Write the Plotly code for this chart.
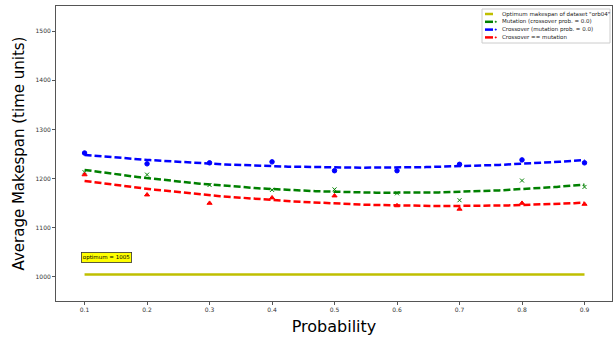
import numpy as np
import plotly.graph_objects as go

probability = [0.1, 0.2, 0.3, 0.4, 0.5, 0.6, 0.7, 0.8, 0.9]
mutation_only = [1213, 1208, 1187, 1177, 1178, 1170, 1156, 1196, 1183]
crossover_only = [1252, 1230, 1232, 1234, 1216, 1216, 1229, 1238, 1232]
crossover_eq_mutation = [1208, 1167, 1150, 1161, 1165, 1145, 1138, 1150, 1148]
optimum = 1005
dataset = "orb04"

FONT = "DejaVu Sans"
W, H = 614, 340
L, R, T, B = 56, 2, 6, 39
PW, PH = W - L - R, H - T - B


def px(x):
    return (x - L) / PW


def py(y):
    return (H - B - y) / PH


fig = go.Figure()

# optimum line
fig.add_trace(go.Scatter(
    x=[probability[0], probability[-1]], y=[optimum, optimum], mode="lines",
    line=dict(color="#bfbf00", width=2.5), showlegend=False))

series = [
    ("Mutation (crossover prob. = 0.0)", mutation_only, "#008000", "x-thin", 4),
    ("Crossover (mutation prob. = 0.0)", crossover_only, "#0000ff", "circle", 4.5),
    ("Crossover == mutation", crossover_eq_mutation, "#ff0000", "triangle-up", 4.5),
]

xs = np.linspace(probability[0], probability[-1], 200)
for name, vals, color, sym, sz in series:
    coef = np.polyfit(probability, vals, 2)
    fig.add_trace(go.Scatter(
        x=xs, y=np.polyval(coef, xs), mode="lines",
        line=dict(color=color, width=2.5, dash="7px,3px"),
        showlegend=False))
    fig.add_trace(go.Scatter(
        x=probability, y=vals, mode="markers",
        marker=dict(color=color, symbol=sym, size=sz,
                    line=dict(color=color, width=1)),
        showlegend=False))

# manual legend (matplotlib-like, compact)
legend_items = [
    (f'Optimum makespan of dataset "{dataset}"', "#bfbf00", False),
    ("Mutation (crossover prob. = 0.0)", "#008000", True),
    ("Crossover (mutation prob. = 0.0)", "#0000ff", True),
    ("Crossover == mutation", "#ff0000", True),
]
fig.add_shape(type="rect", xref="paper", yref="paper",
              x0=px(482), x1=px(610), y0=py(43), y1=py(9),
              line=dict(color="#cccccc", width=1), fillcolor="white", layer="above")
for i, (txt, color, dot) in enumerate(legend_items):
    yy = 14 + i * 7.8
    fig.add_shape(type="line", xref="paper", yref="paper",
                  x0=px(485), x1=px(493), y0=py(yy), y1=py(yy),
                  line=dict(color=color, width=2.5), layer="above")
    if dot:
        fig.add_shape(type="circle", xref="paper", yref="paper",
                      x0=px(495), x1=px(496.5), y0=py(yy - 0.75), y1=py(yy + 0.75),
                      line=dict(color=color, width=0.5), fillcolor=color, layer="above")
    fig.add_annotation(x=px(500), y=py(yy), xref="paper", yref="paper",
                       xanchor="left", yanchor="middle", text=txt, showarrow=False,
                       font=dict(family=FONT, size=5.5, color="#222222"))

fig.add_annotation(
    x=0.0935, y=1038.5, xref="x", yref="y", xanchor="left", yanchor="middle",
    text=f"optimum = {optimum}", showarrow=False,
    font=dict(family=FONT, size=5.5, color="black"),
    bgcolor="#ffff00", bordercolor="#333333", borderwidth=0.8, borderpad=1)

axis_common = dict(
    showgrid=False, zeroline=False, showline=True, linecolor="#555555",
    linewidth=1, mirror=True, ticks="outside", ticklen=3, tickcolor="#555555",
    tickfont=dict(family=FONT, size=6, color="#333333"))

fig.update_xaxes(range=[0.0543, 0.944], tickvals=probability,
                 ticktext=[str(p) for p in probability],
                 title=dict(text="Probability", font=dict(family=FONT, size=16, color="black"),
                            standoff=8),
                 **axis_common)
fig.update_yaxes(range=[951, 1551], tickvals=[1000, 1100, 1200, 1300, 1400, 1500],
                 title=dict(text="Average Makespan (time units)",
                            font=dict(family=FONT, size=15, color="black"), standoff=7),
                 **axis_common)

fig.update_layout(
    width=W, height=H, plot_bgcolor="white", paper_bgcolor="white",
    margin=dict(l=L, r=R, t=T, b=B, autoexpand=False),
    font=dict(family=FONT),
    showlegend=False,
)

fig.write_html("out.html", config={"displayModeBar": False},
               post_script="document.body.style.margin='0';"
                           "document.body.style.overflow='hidden';")
